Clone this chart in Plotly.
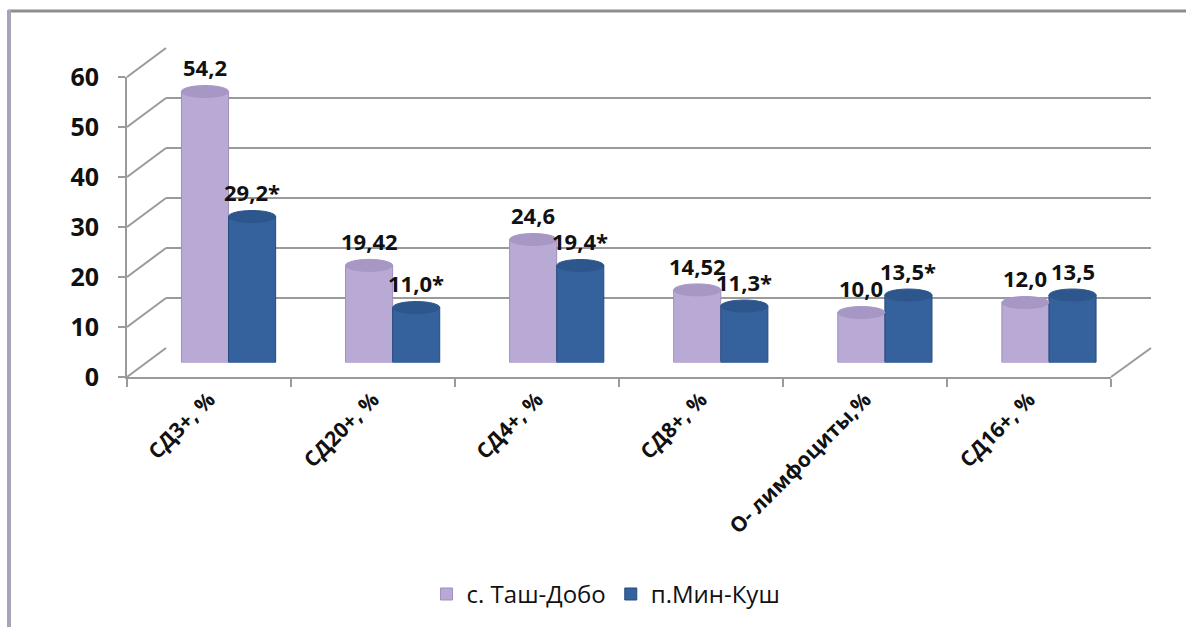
import plotly.graph_objects as go

# ---------------- data ----------------
categories = ["СД3+, %", "СД20+, %", "СД4+, %", "СД8+, %", "О- лимфоциты,%", "СД16+, %"]
series_names = ["с. Таш-Добо", "п.Мин-Куш"]
tash_values = [54.2, 19.42, 24.6, 14.52, 10.0, 12.0]
min_values = [29.2, 11.0, 19.4, 11.3, 13.5, 13.5]
tash_labels = ["54,2", "19,42", "24,6", "14,52", "10,0", "12,0"]
min_labels = ["29,2*", "11,0*", "19,4*", "11,3*", "13,5*", "13,5"]
y_ticks = [0, 10, 20, 30, 40, 50, 60]

# ---------------- style ----------------
W, H = 1186, 627
PURPLE = "#B9AAD5"
PURPLE_EDGE = "#9E8FBC"
PURPLE_TOP = "#A797C4"
BLUE = "#35629D"
BLUE_EDGE = "#244A7C"
BLUE_TOP = "#2C568C"
GRID = "#9A9A9A"
FONT = "Open Sans"


def fx(px):
    return px / W


def fy(py):
    return 1 - py / H


# geometry of the pseudo-3D box (pixels)
FRONT_X = (127, 1111)
FRONT_Y0, FRONT_Y60 = 377, 77
BACK_X = (166, 1151)
BACK_Y0, BACK_Y60 = 348, 48
MID_X = (146.5, 1131)
MID_Y0, MID_Y60 = 362.5, 62.5

fig = go.Figure()

# back wall (gridlines) -> x / y
fig.add_trace(go.Scatter(x=[0], y=[0], xaxis="x", yaxis="y", mode="markers",
                         marker=dict(opacity=0), showlegend=False, hoverinfo="skip"))
# front axis (labels) -> x2 / y2
fig.add_trace(go.Scatter(x=categories, y=[0] * len(categories), xaxis="x2", yaxis="y2",
                         mode="markers", marker=dict(opacity=0), showlegend=False,
                         hoverinfo="skip"))

BW = 0.287  # bar width in category units
fig.add_trace(go.Bar(x=list(range(len(categories))), y=tash_values, name=series_names[0],
                     xaxis="x3", yaxis="y3", width=BW, offset=-BW,
                     marker=dict(color=PURPLE, line=dict(color=PURPLE_EDGE, width=1))))
fig.add_trace(go.Bar(x=list(range(len(categories))), y=min_values, name=series_names[1],
                     xaxis="x3", yaxis="y3", width=BW, offset=0,
                     marker=dict(color=BLUE, line=dict(color=BLUE_EDGE, width=1))))

shapes = []
annotations = []
E = 1.2  # half height of cylinder caps in data units
for i in range(len(categories)):
    for vals, labs, off, body, top in ((tash_values, tash_labels, -BW, PURPLE, PURPLE_TOP),
                                        (min_values, min_labels, 0, BLUE, BLUE_TOP)):
        v = vals[i]
        x0, x1 = i + off, i + off + BW
        # bottom cap
        shapes.append(dict(type="circle", xref="x3", yref="y3", x0=x0, x1=x1,
                           y0=-E, y1=E, fillcolor=body, line=dict(width=0), layer="above"))
        # top cap
        shapes.append(dict(type="circle", xref="x3", yref="y3", x0=x0, x1=x1,
                           y0=v - E, y1=v + E, fillcolor=top,
                           line=dict(color=top, width=1), layer="above"))
        annotations.append(dict(x=(x0 + x1) / 2, y=v, xref="x3", yref="y3",
                                text=labs[i], showarrow=False, yshift=24,
                                font=dict(family=FONT, size=22, color="#111", weight="bold")))

# left wall diagonals and floor right edge
for t in y_ticks:
    yf = FRONT_Y0 - t * (FRONT_Y0 - FRONT_Y60) / 60
    yb = BACK_Y0 - t * (BACK_Y0 - BACK_Y60) / 60
    shapes.append(dict(type="line", xref="paper", yref="paper",
                       x0=fx(FRONT_X[0]), y0=fy(yf), x1=fx(BACK_X[0]), y1=fy(yb),
                       line=dict(color=GRID, width=2), layer="below"))
shapes.append(dict(type="line", xref="paper", yref="paper",
                   x0=fx(FRONT_X[1]), y0=fy(FRONT_Y0), x1=fx(BACK_X[1]), y1=fy(BACK_Y0),
                   line=dict(color=GRID, width=2), layer="below"))
# outer chart frame
shapes.append(dict(type="line", xref="paper", yref="paper", x0=fx(8), y0=fy(11), x1=1, y1=fy(11),
                   line=dict(color="#8E8E8E", width=3), layer="below"))
shapes.append(dict(type="line", xref="paper", yref="paper", x0=fx(9), y0=fy(10), x1=fx(9), y1=0,
                   line=dict(color="#A9A2B8", width=4), layer="below"))

fig.update_layout(
    width=W, height=H,
    margin=dict(l=0, r=0, t=0, b=0),
    paper_bgcolor="white", plot_bgcolor="rgba(0,0,0,0)",
    barmode="overlay",
    showlegend=True,
    legend=dict(orientation="h", x=0.511, xanchor="center", y=0.052, yanchor="middle",
                font=dict(family=FONT, size=24, color="#111"), traceorder="normal",
                itemwidth=30),
    xaxis=dict(domain=[fx(BACK_X[0]), fx(BACK_X[1])], range=[0, 1], visible=True,
               showticklabels=False, showgrid=False, zeroline=False, showline=False,
               ticks="", automargin=False, anchor="y"),
    yaxis=dict(domain=[fy(BACK_Y0), fy(BACK_Y60)], range=[-0.02, 60.02], showticklabels=False,
               showgrid=True, gridcolor=GRID, gridwidth=2, tickvals=y_ticks,
               zeroline=False, showline=False, ticks="", automargin=False, anchor="x"),
    xaxis2=dict(domain=[fx(FRONT_X[0]), fx(FRONT_X[1])], type="category",
                categoryorder="array", categoryarray=categories, range=[-0.5, 5.5],
                showgrid=False, zeroline=False, showline=True, linecolor=GRID, linewidth=2,
                ticks="outside", ticklen=8, tickcolor=GRID, tickwidth=2,
                tickson="boundaries", tickangle=-45,
                tickfont=dict(family=FONT, size=21, color="#111", weight="bold"),
                automargin=False, anchor="y2"),
    yaxis2=dict(domain=[fy(FRONT_Y0), fy(FRONT_Y60)], range=[0, 60], tickvals=y_ticks,
                showgrid=False, zeroline=False, showline=True, linecolor=GRID, linewidth=2,
                ticks="outside", ticklen=7, tickcolor=GRID, tickwidth=2,
                ticklabelstandoff=14,
                tickfont=dict(family=FONT, size=25, color="#111", weight="bold"),
                automargin=False, anchor="x2"),
    xaxis3=dict(domain=[fx(MID_X[0]), fx(MID_X[1])], range=[-0.5, 5.5], visible=False,
                automargin=False, anchor="y3"),
    yaxis3=dict(domain=[fy(MID_Y0), fy(MID_Y60)], range=[0, 60], visible=False,
                automargin=False, anchor="x3"),
    shapes=shapes,
    annotations=annotations,
)

fig.write_html("out.html")
